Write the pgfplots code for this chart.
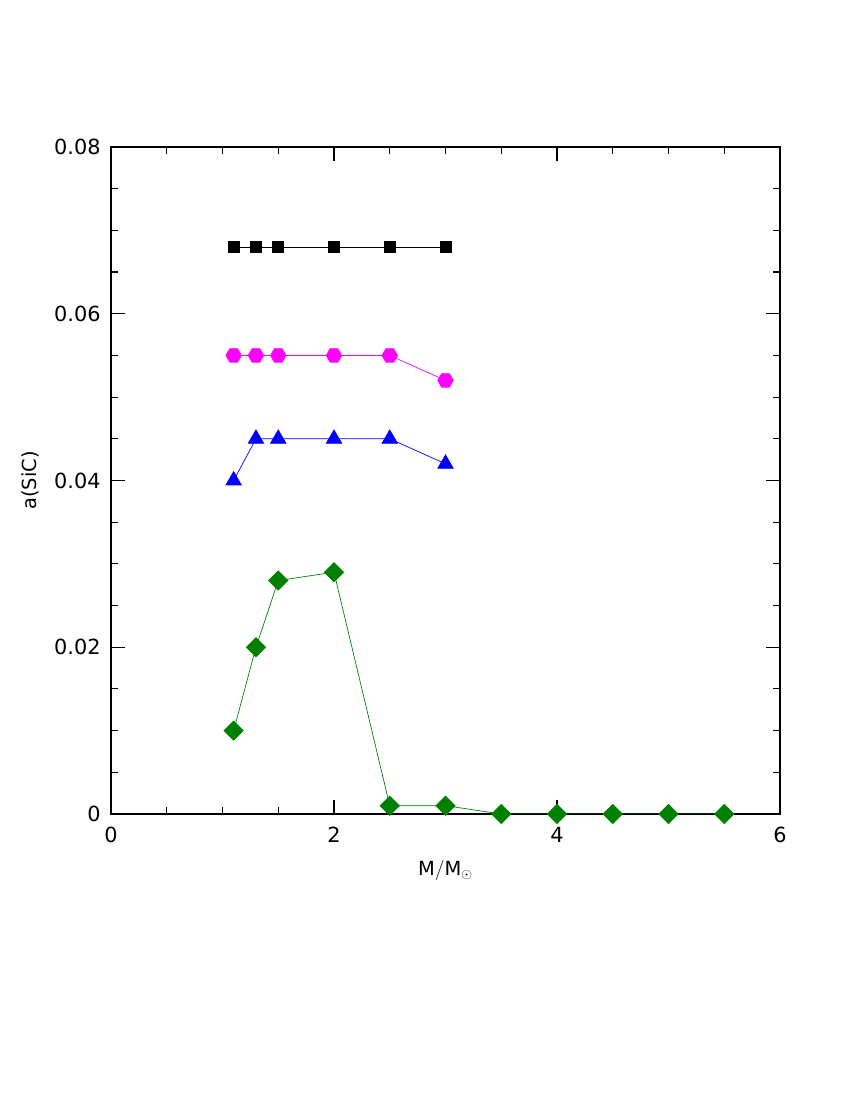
\documentclass[border=0pt]{standalone}
\usepackage{pgfplots}
\pgfplotsset{compat=1.18}
\usepackage{fontspec}
\setmainfont{DejaVu Sans}
\definecolor{sicgreen}{RGB}{0,128,0}
\definecolor{sicmag}{RGB}{255,0,255}
% filled hexagon with flat top and bottom
\pgfdeclareplotmark{hexagon*}{%
  \pgfpathmoveto{\pgfqpointpolar{0}{\pgfplotmarksize}}%
  \pgfpathlineto{\pgfqpointpolar{60}{\pgfplotmarksize}}%
  \pgfpathlineto{\pgfqpointpolar{120}{\pgfplotmarksize}}%
  \pgfpathlineto{\pgfqpointpolar{180}{\pgfplotmarksize}}%
  \pgfpathlineto{\pgfqpointpolar{240}{\pgfplotmarksize}}%
  \pgfpathlineto{\pgfqpointpolar{300}{\pgfplotmarksize}}%
  \pgfpathclose
  \pgfusepathqfillstroke}
\begin{document}
\begin{tikzpicture}
\useasboundingbox (0,0) rectangle (612pt,792pt);
\begin{axis}[
    at={(79.92pt,205.92pt)}, anchor=south west,
    scale only axis, width=481.68pt, height=480.24pt,
    xmin=0, xmax=6, ymin=0, ymax=0.08,
    xtick={0,2,4,6}, minor x tick num=3,
    xticklabels={0,2,4,6},
    ytick={0,0.02,0.04,0.06,0.08}, minor y tick num=3,
    yticklabels={0,0.02,0.04,0.06,0.08},
    scaled y ticks=false,
    tick align=inside, tick pos=both,
    major tick length=10pt, minor tick length=5pt,
    tick style={black, line width=0.8pt},
    axis line style={line width=0.8pt},
    every tick label/.append style={font=\fontsize{15}{17}\selectfont},
    xticklabel style={yshift=-6pt},
    yticklabel style={xshift=-4pt},
    xlabel={\fontsize{14}{16}\selectfont$\mathrm{M/M_{\odot}}$},
    ylabel={\fontsize{14}{16}\selectfont a(SiC)},
    xlabel style={yshift=-6pt},
    ylabel style={yshift=4pt},
]
\addplot[black, line width=0.5pt, mark=square*, mark size=4pt] coordinates {
    (1.1,0.068) (1.3,0.068) (1.5,0.068) (2.0,0.068) (2.5,0.068) (3.0,0.068)
};
\addplot[sicmag, line width=0.5pt, mark=hexagon*, mark options={fill=sicmag, draw=sicmag}, mark size=5.6pt] coordinates {
    (1.1,0.055) (1.3,0.055) (1.5,0.055) (2.0,0.055) (2.5,0.055) (3.0,0.052)
};
\addplot[blue, line width=0.5pt, mark=triangle*, mark size=6.4pt] coordinates {
    (1.1,0.040) (1.3,0.045) (1.5,0.045) (2.0,0.045) (2.5,0.045) (3.0,0.042)
};
\addplot[sicgreen, line width=0.5pt, mark=square*, mark options={rotate=45}, mark size=4.9pt] coordinates {
    (1.1,0.010) (1.3,0.020) (1.5,0.028) (2.0,0.029) (2.5,0.001) (3.0,0.001)
    (3.5,0.0) (4.0,0.0) (4.5,0.0) (5.0,0.0) (5.5,0.0)
};
\end{axis}
\end{tikzpicture}
\end{document}
